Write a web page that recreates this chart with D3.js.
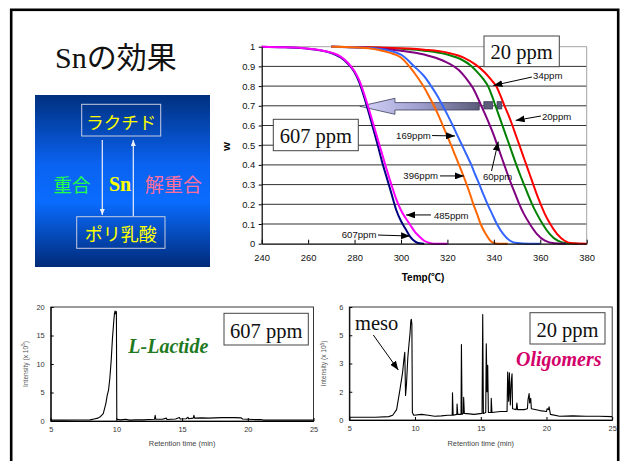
<!DOCTYPE html>
<html><head><meta charset="utf-8">
<script src="https://cdn.jsdelivr.net/npm/d3@7/dist/d3.min.js"></script>
<style>html,body{margin:0;padding:0;background:#fff;}svg{display:block;}</style>
</head><body>
<svg id="slide" width="624" height="461"></svg>
<script>
// ---- TG curves: residual weight W versus temperature for each Sn content ----
const tgTempTicks = [240, 260, 280, 300, 320, 340, 360, 380];
const tgWTicks = [0, 0.1, 0.2, 0.3, 0.4, 0.5, 0.6, 0.7, 0.8, 0.9, 1];
const tgWTickLabels = ["0", "0.1", "0.2", "0.3", "0.4", "0.5", "0.6", "0.7", "0.8", "0.9", "1"];

const temp20 = [270, 290, 310, 320, 327, 332, 336, 339, 341, 342.9, 344.6, 346.4, 348, 349.5, 351, 352.5, 354, 355.5, 357, 358.5, 360.2, 362, 364.3, 367.2, 370.5, 374, 380];
const w20 = [1, 0.996, 0.985, 0.97, 0.945, 0.91, 0.87, 0.83, 0.8, 0.75, 0.7, 0.65, 0.6, 0.55, 0.5, 0.45, 0.4, 0.35, 0.3, 0.25, 0.2, 0.15, 0.1, 0.05, 0.015, 0.002, 0];

const temp34 = [270, 290, 310, 320, 326, 330, 333, 335.5, 337.5, 339.2, 340.7, 342.2, 343.7, 345.2, 346.7, 348.2, 349.7, 351.3, 353, 354.7, 356.5, 358.6, 361, 364, 367.5, 371.5, 376];
const w34 = [1, 0.995, 0.98, 0.96, 0.935, 0.905, 0.87, 0.835, 0.8, 0.75, 0.7, 0.65, 0.6, 0.55, 0.5, 0.45, 0.4, 0.35, 0.3, 0.25, 0.2, 0.15, 0.1, 0.05, 0.015, 0.002, 0];

const temp60 = [270, 285, 300, 310, 318, 325, 328, 331, 334.6, 336.5, 338.3, 340, 341.5, 343, 344.5, 346, 347.6, 349.3, 351, 353, 355.5, 358.5, 362, 366, 371];
const w60 = [1, 0.995, 0.98, 0.96, 0.93, 0.88, 0.84, 0.79, 0.7, 0.65, 0.6, 0.55, 0.5, 0.45, 0.4, 0.35, 0.3, 0.25, 0.2, 0.15, 0.1, 0.05, 0.015, 0.002, 0];

const temp169 = [270, 280, 290, 300, 305.7, 310, 313, 315.7, 318, 320.2, 322.3, 324.3, 326.3, 328.3, 330.3, 332, 333.8, 335.5, 337.3, 339.3, 341.3, 344, 347, 350, 355, 360];
const w169 = [1, 0.997, 0.99, 0.96, 0.9, 0.85, 0.8, 0.75, 0.7, 0.65, 0.6, 0.55, 0.5, 0.45, 0.4, 0.35, 0.3, 0.25, 0.2, 0.15, 0.1, 0.05, 0.015, 0.003, 0, 0];

const temp396 = [270, 280, 290, 295, 300, 303.6, 306.5, 309.6, 312, 314.2, 316.2, 318, 319.8, 321.6, 323.3, 325, 326.7, 328.3, 329.8, 331.2, 332.8, 334.3, 336.5, 338.5, 340, 342, 346];
const w396 = [1, 0.997, 0.985, 0.97, 0.945, 0.9, 0.855, 0.8, 0.75, 0.7, 0.65, 0.6, 0.55, 0.5, 0.45, 0.4, 0.35, 0.3, 0.25, 0.2, 0.15, 0.1, 0.05, 0.015, 0.004, 0, 0];

const temp485 = [240, 250, 260, 265, 270, 274, 277, 280, 282, 284, 286, 288, 290, 292, 294, 296, 298, 300, 302, 304, 306, 308, 310, 312, 314, 320];
const w485 = [1, 0.997, 0.99, 0.983, 0.97, 0.95, 0.92, 0.875, 0.83, 0.765, 0.69, 0.61, 0.53, 0.45, 0.37, 0.295, 0.225, 0.17, 0.13, 0.095, 0.06, 0.035, 0.015, 0.005, 0, 0];

const temp607 = [240, 250, 260, 265, 270, 274, 277, 280, 282, 284, 286, 288, 290, 292, 294, 296, 298, 300, 302, 304, 306, 308, 310];
const w607 = [1, 0.997, 0.99, 0.982, 0.968, 0.945, 0.915, 0.87, 0.82, 0.75, 0.67, 0.585, 0.5, 0.41, 0.33, 0.25, 0.17, 0.115, 0.075, 0.035, 0.012, 0.002, 0];

const tgNames = ["34ppm", "20ppm", "60ppm", "169ppm", "396ppm", "607ppm", "485ppm"];
const tgColors = ["#008000", "#ff0000", "#800080", "#3366ff", "#ff6600", "#000080", "#ff00ff"];
const tgTemps = [temp34, temp20, temp60, temp169, temp396, temp607, temp485];
const tgWeights = [w34, w20, w60, w169, w396, w607, w485];

// callouts: label text, text anchor point and arrow tail/tip in (temp, W)
const calloutText = ["34ppm", "20ppm", "60ppm", "169ppm", "396ppm", "485ppm", "607ppm"];
const calloutAt = [[356.9, 0.836], [360.7, 0.628], [335.3, 0.323], [297.9, 0.529], [301, 0.328], [314.2, 0.125], [274.5, 0.031]];
const calloutTail = [[356.4, 0.846], [360.3, 0.648], [339, 0.369], [313.4, 0.549], [316.8, 0.344], [312.9, 0.146], [290.1, 0.044]];
const calloutTip = [[339.8, 0.803], [349.4, 0.626], [341.9, 0.518], [323.3, 0.547], [327.1, 0.344], [302.2, 0.146], [303.9, 0.039]];

// ---- chromatograms ----
const rtTicks = [5, 10, 15, 20, 25];
const lactideTicks = [0, 5, 10, 15, 20];
const oligoTicks = [0, 1.5, 3, 4.5, 6];
const oligoTickLabels = ["0", "2", "3", "5", "6"];

const rt607 = [5, 6, 7, 8, 8.3, 8.6, 8.8, 9.0, 9.2, 9.3, 9.4, 9.5, 9.6, 9.7, 9.8, 9.85, 9.9, 9.95, 10.0, 10.03, 10.3, 10.7, 11, 11.5, 12, 12.5, 12.9, 12.95, 13.0, 13.5, 13.8, 13.85, 14.5, 14.8, 14.85, 15.3, 15.45, 15.5, 15.85, 15.9, 15.95, 16.5, 17, 17.5, 18, 18.5, 19, 19.5, 19.6, 20, 20.5, 21, 21.2, 22, 23, 24, 25];
const int607 = [0.15, 0.15, 0.18, 0.2, 0.35, 0.5, 0.8, 1.3, 3.1, 4.5, 5.4, 7.5, 10.5, 14.5, 17.5, 18.8, 19.3, 18.8, 19.2, 0.3, 0.2, 0.3, 0.15, 0.2, 0.2, 0.25, 0.3, 1.0, 0.3, 0.3, 0.5, 0.25, 0.35, 0.6, 0.35, 0.4, 0.65, 0.4, 0.5, 1.0, 0.5, 0.55, 0.5, 0.55, 0.6, 0.6, 0.6, 0.55, 0.35, 0.3, 0.25, 0.25, 0.15, 0.15, 0.15, 0.15, 0.15];

const rt20 = [5, 6, 7, 8, 8.3, 8.6, 8.85, 9.05, 9.15, 9.22, 9.28, 9.35, 9.45, 9.55, 9.62, 9.68, 9.72, 9.76, 9.8, 9.9, 10.5, 11, 11.5, 12, 12.5, 12.83, 12.85, 12.9, 13.18, 13.2, 13.25, 13.5, 13.53, 13.58, 13.68, 13.7, 13.75, 14.5, 15.1, 15.15, 15.2, 15.38, 15.42, 15.48, 15.53, 15.58, 15.78, 15.8, 15.85, 16.5, 17.0, 17.05, 17.12, 17.18, 17.25, 17.32, 17.38, 17.42, 17.7, 17.75, 17.8, 18.3, 18.55, 18.6, 18.68, 18.72, 18.8, 18.85, 19.5, 20, 20.05, 20.15, 20.2, 20.3, 21, 22, 23, 24, 25];
const int20 = [0.15, 0.15, 0.15, 0.18, 0.25, 0.55, 1.6, 2.5, 3.2, 3.6, 1.3, 1.9, 3.3, 4.1, 4.6, 5.25, 5.35, 5.1, 0.4, 0.25, 0.3, 0.25, 0.2, 0.22, 0.25, 0.25, 1.45, 0.25, 0.3, 0.85, 0.3, 0.3, 4.0, 0.3, 0.35, 1.2, 0.35, 0.3, 0.35, 5.6, 0.35, 0.4, 4.05, 1.5, 2.9, 0.4, 0.4, 1.15, 0.4, 0.45, 0.45, 2.55, 1.0, 2.5, 0.8, 2.0, 2.45, 0.6, 0.55, 0.9, 0.55, 0.55, 0.6, 1.1, 1.4, 0.9, 1.15, 0.6, 0.5, 0.45, 0.6, 0.55, 0.7, 0.3, 0.2, 0.22, 0.2, 0.2, 0.18];

// ---------------------------------------------------------------------------
const svg = d3.select("#slide");
const SERIF = "'Liberation Serif','Times New Roman','Noto Sans CJK JP',serif";
const SANS = "'Liberation Sans',Arial,'Noto Sans CJK JP',sans-serif";
const CJK = "'Noto Sans CJK JP',sans-serif";

const defs = svg.append("defs");
function headMarker(id, color, len, wid) {
  defs.append("marker").attr("id", id).attr("markerUnits", "userSpaceOnUse")
    .attr("markerWidth", len).attr("markerHeight", wid)
    .attr("refX", len).attr("refY", wid / 2).attr("orient", "auto")
    .append("path").attr("d", `M0,0L${len},${wid / 2}L0,${wid}Z`).attr("fill", color);
}
headMarker("headBlack", "#000", 9, 7);
headMarker("headWhite", "#eef0f8", 6, 5);

const boxGrad = defs.append("linearGradient").attr("id", "boxGrad")
  .attr("x1", 0).attr("y1", 0).attr("x2", 0).attr("y2", 1);
[[0, "#00307e"], [0.4, "#0a62f0"], [0.62, "#0a6cff"], [1, "#002a78"]]
  .forEach(([o, c]) => boxGrad.append("stop").attr("offset", o).attr("stop-color", c));

const arrowGrad = defs.append("linearGradient").attr("id", "arrowGrad")
  .attr("x1", 0).attr("y1", 0).attr("x2", 1).attr("y2", 0);
[[0, "#d4d4fa"], [0.5, "#a0a0d0"], [1, "#5a5a78"]]
  .forEach(([o, c]) => arrowGrad.append("stop").attr("offset", o).attr("stop-color", c));

// slide frame
svg.append("rect").attr("x", 11.2).attr("y", 9.8).attr("width", 607).attr("height", 480)
  .attr("fill", "none").attr("stroke", "#000").attr("stroke-width", 2.6);

// title
svg.append("text").attr("x", 55).attr("y", 68).attr("font-family", SERIF)
  .attr("font-size", 30).attr("fill", "#111").text("Snの効果");

// ---- reaction scheme panel ----
const panel = svg.append("g");
panel.append("rect").attr("x", 35).attr("y", 95).attr("width", 175).attr("height", 172).attr("fill", "url(#boxGrad)");
panel.append("rect").attr("x", 81.7).attr("y", 104.3).attr("width", 79).attr("height", 31.7)
  .attr("fill", "none").attr("stroke", "#c8cce0").attr("stroke-width", 1);
panel.append("rect").attr("x", 76.7).attr("y", 216.7).attr("width", 88.3).attr("height", 31.6)
  .attr("fill", "none").attr("stroke", "#c8cce0").attr("stroke-width", 1);
panel.append("text").attr("x", 121.2).attr("y", 121).attr("dominant-baseline", "central")
  .attr("text-anchor", "middle").attr("font-family", CJK).attr("font-size", 17.5)
  .attr("fill", "#ffff00").text("ラクチド");
panel.append("text").attr("x", 120.8).attr("y", 233).attr("dominant-baseline", "central")
  .attr("text-anchor", "middle").attr("font-family", CJK).attr("font-size", 18)
  .attr("fill", "#ffff00").text("ポリ乳酸");
panel.append("line").attr("x1", 102.3).attr("y1", 140).attr("x2", 102.3).attr("y2", 215)
  .attr("stroke", "#eef0f8").attr("stroke-width", 1.2).attr("marker-end", "url(#headWhite)");
panel.append("line").attr("x1", 133.3).attr("y1", 216).attr("x2", 133.3).attr("y2", 140)
  .attr("stroke", "#eef0f8").attr("stroke-width", 1.2).attr("marker-end", "url(#headWhite)");
panel.append("text").attr("x", 72).attr("y", 183.5).attr("dominant-baseline", "central")
  .attr("text-anchor", "middle").attr("font-family", CJK).attr("font-size", 18.5)
  .attr("fill", "#22ff44").text("重合");
panel.append("text").attr("x", 120).attr("y", 183.5).attr("dominant-baseline", "central")
  .attr("text-anchor", "middle").attr("font-family", SERIF).attr("font-weight", "bold")
  .attr("font-size", 20).attr("fill", "#ffff00").text("Sn");
panel.append("text").attr("x", 173.5).attr("y", 183.5).attr("dominant-baseline", "central")
  .attr("text-anchor", "middle").attr("font-family", CJK).attr("font-size", 19)
  .attr("fill", "#ff6f9c").text("解重合");

// ---- TG chart ----
const x = d3.scaleLinear().domain([240, 380]).range([261.7, 586.7]);
const y = d3.scaleLinear().domain([0, 1]).range([243.7, 46.7]);
const tg = svg.append("g");

tg.selectAll("line.grid").data(tgWTicks.filter(d => d > 0)).join("line").attr("class", "grid")
  .attr("x1", x(240)).attr("x2", x(380)).attr("y1", d => y(d)).attr("y2", d => y(d))
  .attr("stroke", d => d === 1 ? "#9a9a9a" : "#1a1a1a").attr("stroke-width", 0.9);
tg.append("line").attr("x1", x(380)).attr("x2", x(380)).attr("y1", y(1)).attr("y2", y(0))
  .attr("stroke", "#9a9a9a").attr("stroke-width", 0.9);

// big "shift" arrow pointing toward the high-Sn curves
const ay = y(0.7) + 0.5;
const arrowPath = [
  [x(282.3), ay], [x(297.4), ay - 8], [x(297.4), ay - 3.7], [x(333.7), ay - 3.7],
  [x(333.7), ay + 3.7], [x(297.4), ay + 3.7], [x(297.4), ay + 8]
];
tg.append("path").attr("d", "M" + arrowPath.map(p => p.join(",")).join("L") + "Z")
  .attr("fill", "url(#arrowGrad)").attr("stroke", "#3c3c5c").attr("stroke-width", 0.8);
[[335.7, 339.4], [341.4, 343.4]].forEach(([a, b]) => {
  tg.append("rect").attr("x", x(a)).attr("width", x(b) - x(a))
    .attr("y", y(0.721)).attr("height", y(0.684) - y(0.721))
    .attr("fill", "#5c5c7a").attr("stroke", "#3c3c5c").attr("stroke-width", 0.8);
});

const tgLine = d3.line().x(d => x(d[0])).y(d => y(d[1])).curve(d3.curveMonotoneX);
tgNames.forEach((name, i) => {
  const pts = tgTemps[i].map((t, k) => [t, tgWeights[i][k]]);
  tg.append("path").datum(pts).attr("d", tgLine).attr("fill", "none")
    .attr("stroke", tgColors[i]).attr("stroke-width", 2);
});

// axes
const xAxis = tg.append("g").attr("transform", `translate(0,${y(0)})`)
  .call(d3.axisBottom(x).tickValues(tgTempTicks).tickSizeInner(-4).tickSizeOuter(0).tickPadding(11).tickFormat(d3.format("d")));
const yAxis = tg.append("g").attr("transform", `translate(${x(240)},0)`)
  .call(d3.axisLeft(y).tickValues(tgWTicks).tickSizeInner(3).tickSizeOuter(0).tickPadding(3.5).tickFormat((d, i) => tgWTickLabels[i]));
[xAxis, yAxis].forEach(g => {
  g.selectAll("text").attr("font-family", SANS).attr("font-size", 9.4).attr("fill", "#111");
  g.selectAll("line").attr("stroke", "#000");
  g.select(".domain").attr("stroke", "#000").attr("stroke-width", 1.2);
});
tg.append("text").attr("x", 423).attr("y", 281).attr("text-anchor", "middle")
  .attr("font-family", SANS).attr("font-weight", "bold").attr("font-size", 10).text("Temp(℃)");
tg.append("text").attr("transform", "translate(230,146.5) rotate(-90)").attr("text-anchor", "middle")
  .attr("font-family", SANS).attr("font-weight", "bold").attr("font-size", 9.5).text("W");

// callout labels
calloutText.forEach((t, i) => {
  tg.append("line").attr("x1", x(calloutTail[i][0])).attr("y1", y(calloutTail[i][1]))
    .attr("x2", x(calloutTip[i][0])).attr("y2", y(calloutTip[i][1]))
    .attr("stroke", "#000").attr("stroke-width", 1).attr("marker-end", "url(#headBlack)");
  tg.append("text").attr("x", x(calloutAt[i][0])).attr("y", y(calloutAt[i][1]))
    .attr("font-family", SANS).attr("font-size", 9.6).attr("fill", "#111").text(t);
});

function labelBox(g, x0, y0, w, h, text, tx, ty, size) {
  g.append("rect").attr("x", x0).attr("y", y0).attr("width", w).attr("height", h)
    .attr("fill", "#fff").attr("stroke", "#444").attr("stroke-width", 1);
  g.append("text").attr("x", tx).attr("y", ty).attr("text-anchor", "middle")
    .attr("font-family", SERIF).attr("font-size", size).attr("fill", "#111").text(text);
}
labelBox(tg, 273.3, 119.3, 85, 31.4, "607 ppm", 315.8, 143, 20.5);
labelBox(tg, 484, 36, 75.3, 30.7, "20 ppm", 521.6, 59, 20.5);

// ---- chromatograms ----
function chromatogram(opts) {
  const g = svg.append("g");
  const cx = d3.scaleLinear().domain([5, 25]).range(opts.xr);
  const cy = d3.scaleLinear().domain(opts.yd).range(opts.yr);
  const line = d3.line().x(d => cx(d[0])).y(d => cy(d[1]));
  g.append("rect").attr("x", opts.xr[0]).attr("y", opts.yr[1])
    .attr("width", opts.xr[1] - opts.xr[0]).attr("height", opts.yr[0] - opts.yr[1])
    .attr("fill", "none").attr("stroke", "#222").attr("stroke-width", 0.9);
  g.append("path").datum(opts.rt.map((t, k) => [t, opts.val[k]])).attr("d", line)
    .attr("fill", "none").attr("stroke", "#000").attr("stroke-width", 1.1).attr("stroke-linejoin", "round");
  const ax = g.append("g").attr("transform", `translate(0,${opts.yr[0]})`)
    .call(d3.axisBottom(cx).tickValues(rtTicks).tickSizeInner(-3).tickSizeOuter(0).tickPadding(6));
  const ay2 = g.append("g").attr("transform", `translate(${opts.xr[0]},0)`)
    .call(d3.axisLeft(cy).tickValues(opts.yt).tickSizeInner(-3).tickSizeOuter(0).tickPadding(6)
      .tickFormat((d, i) => opts.ytl[i]));
  [ax, ay2].forEach(a => {
    a.selectAll("text").attr("font-family", SANS).attr("font-size", 7.4).attr("fill", "#333");
    a.selectAll("line").attr("stroke", "#000");
    a.select(".domain").attr("stroke", "#000").attr("stroke-width", 1.1);
  });
  g.append("text").attr("x", (opts.xr[0] + opts.xr[1]) / 2).attr("y", 445.5).attr("text-anchor", "middle")
    .attr("font-family", SANS).attr("font-size", 7.4).attr("fill", "#444").text("Retention time (min)");
  const yl = g.append("text").attr("transform", `translate(${opts.xr[0] - 23},${(opts.yr[0] + opts.yr[1]) / 2}) rotate(-90)`)
    .attr("text-anchor", "middle").attr("font-family", SANS).attr("font-size", 6.6).attr("fill", "#555");
  yl.append("tspan").text("Intensity (x 10");
  yl.append("tspan").attr("font-size", 4.8).attr("dy", -2.5).text("5");
  yl.append("tspan").attr("dy", 2.5).text(")");
  return g;
}

const chartL = chromatogram({ xr: [50.7, 313.5], yd: [0, 20], yr: [421, 307], yt: lactideTicks,
  ytl: lactideTicks.map(String), rt: rt607, val: int607 });
chartL.append("text").attr("x", 128.3).attr("y", 352.5).attr("font-family", SERIF)
  .attr("font-weight", "bold").attr("font-style", "italic").attr("font-size", 20)
  .attr("fill", "#1f7a1f").text("L-Lactide");
labelBox(chartL, 224, 313.3, 84.3, 31.7, "607 ppm", 266.2, 337.5, 20.5);

const chartR = chromatogram({ xr: [349.3, 612.2], yd: [0, 6], yr: [420, 307], yt: oligoTicks,
  ytl: oligoTickLabels, rt: rt20, val: int20 });
chartR.append("text").attr("x", 516).attr("y", 366).attr("font-family", SERIF)
  .attr("font-weight", "bold").attr("font-style", "italic").attr("font-size", 20)
  .attr("fill", "#d4006a").text("Oligomers");
labelBox(chartR, 530, 312.7, 75, 31.3, "20 ppm", 567.5, 336.5, 20.5);
chartR.append("text").attr("x", 355).attr("y", 329.5).attr("font-family", SERIF)
  .attr("font-size", 20.5).attr("fill", "#111").text("meso");
chartR.append("line").attr("x1", 373.3).attr("y1", 335).attr("x2", 398.3).attr("y2", 370)
  .attr("stroke", "#000").attr("stroke-width", 1).attr("marker-end", "url(#headBlack)");
</script>
</body></html>
